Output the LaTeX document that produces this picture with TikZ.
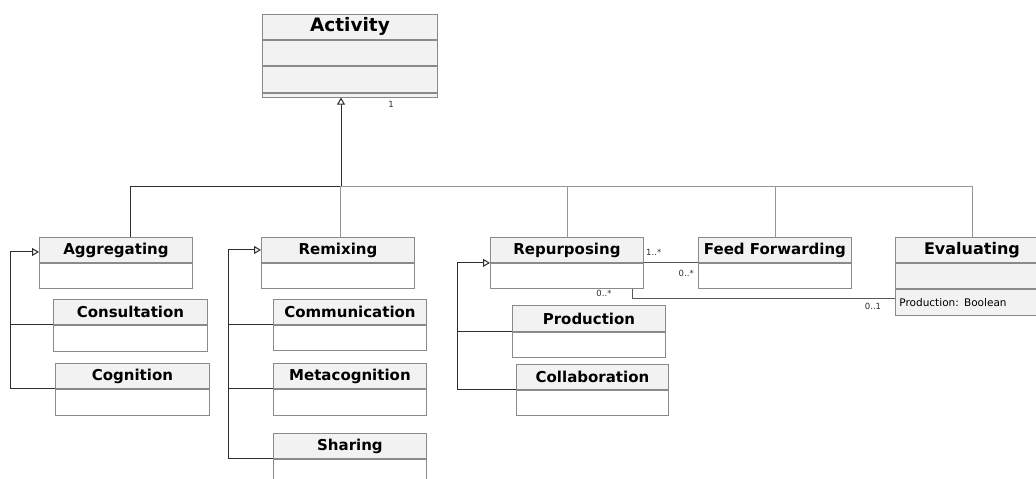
\documentclass[tikz,border=0pt]{standalone}
\usepackage{fontspec}
\setmainfont{DejaVu Sans}
\usetikzlibrary{arrows.meta, positioning}
\definecolor{umlline}{RGB}{138,138,138}
\definecolor{umlfill}{RGB}{242,242,242}
\definecolor{umldark}{RGB}{45,45,45}
\definecolor{umlbus}{RGB}{150,150,150}
\tikzset{
  umlhead/.style={rectangle, draw=umlline, fill=umlfill, line width=0.9pt,
                  minimum width=153pt, minimum height=25pt, inner sep=0pt,
                  anchor=north west, font=\bfseries\fontsize{15}{15}\selectfont},
  umlpart/.style={rectangle, draw=umlline, fill=white, line width=0.9pt,
                  minimum width=153pt, minimum height=25pt, inner sep=0pt,
                  below=0pt of #1},
  genline/.style={draw=umldark, line width=1pt},
  genarrow/.style={genline, -{Triangle[open, length=7pt, width=8pt, fill=white]}},
  busline/.style={draw=umlbus, line width=0.9pt},
  assocline/.style={draw=umldark!80, line width=1pt},
  mult/.style={font=\fontsize{8.5}{8.5}\selectfont, text=umldark, inner sep=0pt},
}
\begin{document}
\begin{tikzpicture}[x=1pt, y=-1pt]
  \useasboundingbox (0,0) rectangle (1036,479);
  % superclass
  \node[umlhead, minimum width=175pt, font=\bfseries\fontsize{18.5}{18.5}\selectfont]
    (act) at (262,14) {Activity};
  \node[umlpart=act, fill=umlfill, minimum width=175pt] (act1) {};
  \node[umlpart=act1, fill=umlfill, minimum width=175pt, minimum height=26pt] (act2) {};
  \node[umlpart=act2, fill=umlfill, minimum width=175pt, minimum height=4pt] (act3) {};
  % first level
  \node[umlhead] (agg) at (39,237) {Aggregating};
  \node[umlpart=agg] (aggb) {};
  \node[umlhead] (rem) at (261,237) {Remixing};
  \node[umlpart=rem] (remb) {};
  \node[umlhead] (rep) at (490,237) {Repurposing};
  \node[umlpart=rep] (repb) {};
  \node[umlhead] (ff) at (698,237) {Feed Forwarding};
  \node[umlpart=ff] (ffb) {};
  \node[umlhead, font=\bfseries\fontsize{16}{16}\selectfont] (ev) at (895,237) {Evaluating};
  \node[umlpart=ev, fill=umlfill] (evb) {};
  \node[umlpart=ev, below=0pt of evb, fill=umlfill, minimum height=26pt,
        text width=145pt, align=left, font=\fontsize{10.5}{10.5}\selectfont]
    (eva) {Production: Boolean};
  % second level
  \node[umlhead, minimum width=154pt] (con) at (53,299) {Consultation};
  \node[umlpart=con, minimum width=154pt, minimum height=26pt] (conb) {};
  \node[umlhead, minimum width=154pt] (cog) at (55,363) {Cognition};
  \node[umlpart=cog, minimum width=154pt, minimum height=26pt] (cogb) {};
  \node[umlhead] (com) at (273,299) {Communication};
  \node[umlpart=com] (comb) {};
  \node[umlhead] (met) at (273,363) {Metacognition};
  \node[umlpart=met, minimum height=26pt] (metb) {};
  \node[umlhead] (sha) at (273,433) {Sharing};
  \node[umlpart=sha, minimum height=30pt] (shab) {};
  \node[umlhead, minimum height=26pt] (pro) at (512,305) {Production};
  \node[umlpart=pro] (prob) {};
  \node[umlhead, minimum width=152pt] (col) at (516,364) {Collaboration};
  \node[umlpart=col, minimum width=152pt] (colb) {};

  % inheritance tree
  \coordinate (bus) at (341,186);
  \draw[genline] ([xshift=14.5pt]agg.north) |- (bus);
  \draw[genarrow] (bus) -- (bus |- act3.south);
  \draw[busline] (bus) -| (ev.north);
  \draw[busline] ([xshift=2.5pt]rem.north) -- ([xshift=2.5pt]rem.north |- bus);
  \draw[busline] (rep.north) -- (rep.north |- bus);
  \draw[busline] (ff.north) -- (ff.north |- bus);
  \node[mult] (one) at (391,104) {1};

  % left rails
  \coordinate (aggrail) at (10,0);
  \coordinate (remrail) at (228,0);
  \coordinate (reprail) at (457,0);
  \draw[genarrow] (cog.south west) -- (cog.south west -| aggrail)
    |- ([yshift=-2pt]agg.west);
  \draw[genline] (con.south west) -- (con.south west -| aggrail);
  \draw[genarrow] (sha.south west) -- (sha.south west -| remrail) |- (rem.west);
  \draw[genline] (com.south west) -- (com.south west -| remrail);
  \draw[genline] (met.south west) -- (met.south west -| remrail);
  \draw[genarrow] (col.south west) -- (col.south west -| reprail) |- (rep.south west);
  \draw[genline] (pro.south west) -- (pro.south west -| reprail);

  % associations
  \draw[assocline] (rep.south east) -- (ff.south west);
  \node[mult, anchor=west] (m1) at (646,252) {1..*};
  \node[mult, anchor=east] (m2) at (694,273) {0..*};
  \draw[assocline] ([xshift=-11pt]repb.south east) |- ([yshift=4pt]eva.west);
  \node[mult] (m3) at (604,293) {0..*};
  \node[mult] (m4) at (873,306) {0..1};
\end{tikzpicture}
\end{document}
